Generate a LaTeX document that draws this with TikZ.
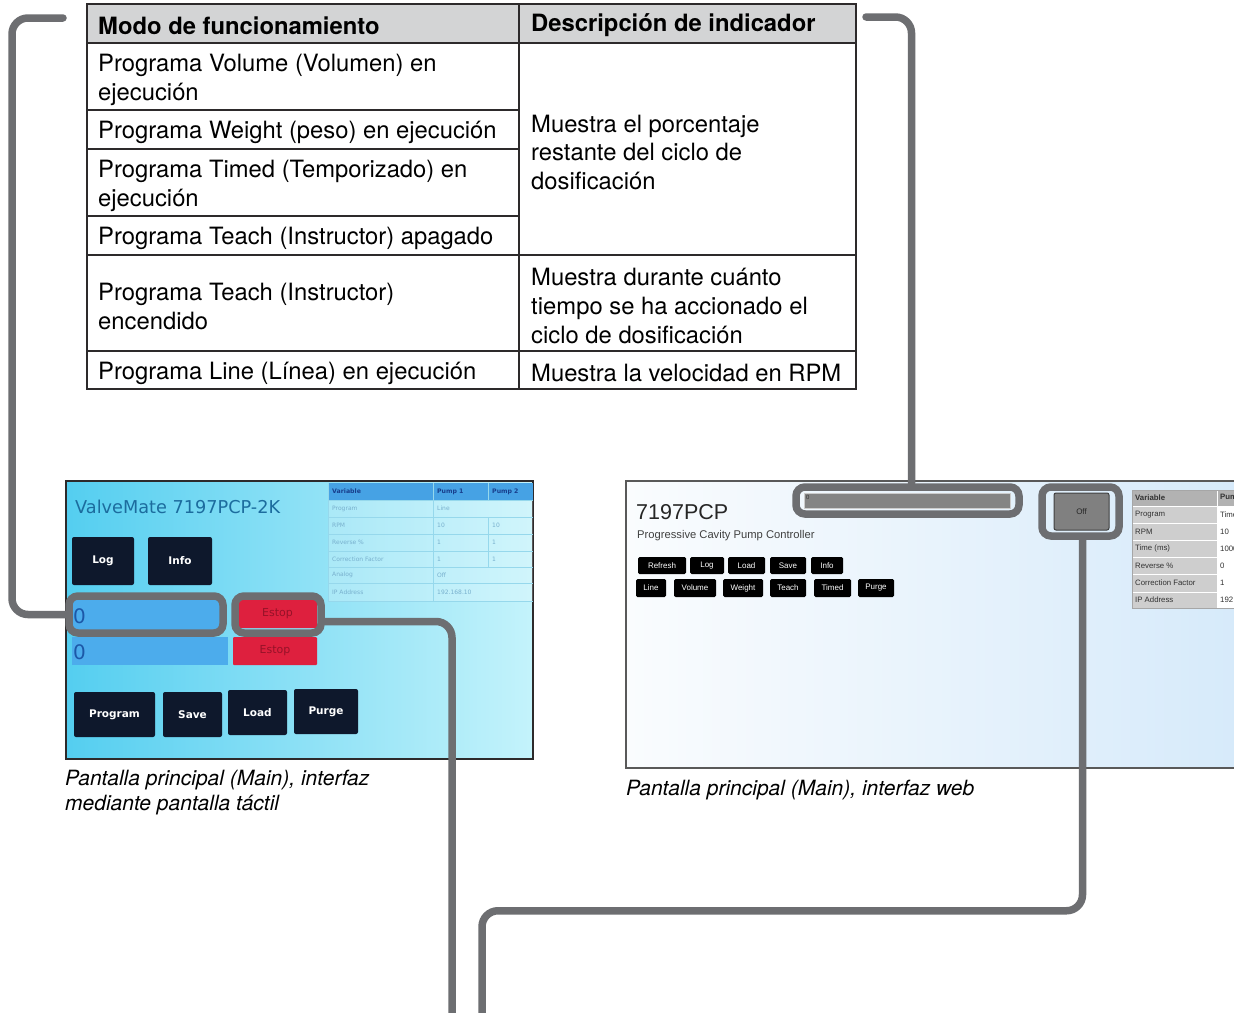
\documentclass[tikz,border=0pt]{standalone}
\usepackage{fontspec}
\setmainfont{TeX Gyre Heros}
\newfontfamily\touchfont{DejaVu Sans}
\newfontfamily\webfont{Liberation Sans}

\definecolor{calloutgray}{RGB}{109,110,113}
\definecolor{rulecol}{RGB}{45,42,43}
\definecolor{headfill}{RGB}{211,212,213}
\definecolor{navybtn}{RGB}{14,24,44}
\definecolor{fieldblue}{RGB}{76,172,236}
\definecolor{fieldtext}{RGB}{28,88,168}
\definecolor{estopred}{RGB}{222,32,62}
\definecolor{estoptext}{RGB}{150,18,40}
\definecolor{titleblue}{RGB}{28,108,158}
\definecolor{tsleft}{RGB}{84,206,240}
\definecolor{tsright}{RGB}{196,243,251}
\definecolor{tshead}{RGB}{70,162,228}
\definecolor{tsheadtext}{RGB}{24,62,140}
\definecolor{tsline}{RGB}{150,216,236}
\definecolor{tstext}{RGB}{120,176,206}
\definecolor{webleft}{RGB}{250,252,254}
\definecolor{webright}{RGB}{214,234,250}
\definecolor{webgray}{RGB}{132,132,132}
\definecolor{webhead}{RGB}{178,178,178}
\definecolor{webcell}{RGB}{206,206,206}
\definecolor{webtext}{RGB}{50,50,50}

\newcommand\tabtxt{\fontsize{23.8}{29}\selectfont}
\newcommand\captxt{\fontsize{21}{25}\selectfont\itshape}

\tikzset{
  callout/.style={draw=calloutgray, line width=7.5pt, rounded corners=16pt, line cap=round},
  hilite/.style={draw=calloutgray, line width=7.5pt, rounded corners=9pt, inner sep=0pt},
  tabrule/.style={draw=rulecol, line width=1.6pt},
  celltext/.style={anchor=west, inner sep=0pt, align=left, font=\tabtxt, text=black},
  headtext/.style={anchor=west, inner sep=0pt, font=\tabtxt\bfseries, text=black},
  captext/.style={anchor=west, inner sep=0pt, align=left, font=\captxt, text=black},
  navy/.style={fill=navybtn, rounded corners=2pt, inner sep=0pt, text=white,
    font={\touchfont\bfseries\fontsize{10.5}{12}\selectfont}},
  field/.style={fill=fieldblue, inner sep=0pt},
  fieldzero/.style={anchor=west, inner sep=0pt, text=fieldtext, font={\touchfont\fontsize{20}{22}\selectfont}},
  estop/.style={fill=estopred, rounded corners=1pt, inner sep=0pt, text=estoptext,
    font={\touchfont\fontsize{11}{12}\selectfont}},
  tscell/.style={anchor=west, inner sep=0pt, text=tstext, font={\touchfont\fontsize{6}{7}\selectfont}},
  tshcell/.style={anchor=west, inner sep=0pt, text=tsheadtext, font={\touchfont\bfseries\fontsize{6.2}{7}\selectfont}},
  webbtn/.style={fill=black, rounded corners=1.5pt, inner sep=0pt, text=white,
    font={\webfont\fontsize{8}{9}\selectfont}},
  webcelltext/.style={anchor=west, inner sep=0pt, text=webtext, font={\webfont\fontsize{7.8}{9}\selectfont}},
}

\begin{document}
\begin{tikzpicture}[x=1pt,y=-1pt]
\useasboundingbox (0,0) rectangle (1234,1012);
\fill[white] (0,0) rectangle (1234,1012);

% ---------------- Mode / indicator table ----------------
\fill[headfill] (87,4) rectangle (856,43);
\draw[tabrule] (87,43) -- (856,43);
\draw[tabrule] (87,110) -- (519,110);
\draw[tabrule] (87,149) -- (519,149);
\draw[tabrule] (87,216) -- (519,216);
\draw[tabrule] (87,255) -- (856,255);
\draw[tabrule] (87,351) -- (856,351);
\draw[tabrule] (519,4) -- (519,389);
\draw[tabrule, line width=1.9pt] (87,4) rectangle (856,389);

\node[headtext] (hMode) at (98,25.5) {Modo de funcionamiento};
\node[headtext] (hDesc) at (531,25.5) {Descripción de indicador};

\node[celltext] (mVolume) at (98,79.5) {Programa Volume (Volumen) en\\ejecución};
\node[celltext] (mWeight) at (98,132.5) {Programa Weight (peso) en ejecución};
\node[celltext] (mTimed) at (98,185.5) {Programa Timed (Temporizado) en\\ejecución};
\node[celltext] (mTeachOff) at (98,238.5) {Programa Teach (Instructor) apagado};
\node[celltext] (mTeachOn) at (98,306.5) {Programa Teach (Instructor)\\encendido};
\node[celltext] (mLine) at (98,373) {Programa Line (Línea) en ejecución};

\node[celltext] (dPercent) at (531,152.5) {Muestra el porcentaje\\restante del ciclo de\\dosificación};
\node[celltext] (dTime) at (531,306) {Muestra durante cuánto\\tiempo se ha accionado el\\ciclo de dosificación};
\node[celltext] (dSpeed) at (531,373) {Muestra la velocidad en RPM};

% ---------------- Touch screen main screen ----------------
\shade[left color=tsleft, right color=tsright] (66,481) rectangle (533,759);
\draw[rulecol, line width=1.3pt] (66,481) rectangle (533,759);

\node[anchor=west, inner sep=0pt, text=titleblue, font={\touchfont\fontsize{17.7}{20}\selectfont}]
  (tsTitle) at (75,507) {ValveMate 7197PCP-2K};

\node[navy, minimum width=62, minimum height=48] (tsLog) at (103,561) {Log};
\node[navy, minimum width=64, minimum height=48] (tsInfo) at (180,561) {Info};

\node[field, minimum width=150, minimum height=30] (tsField1) at (147,615) {};
\node[fieldzero] (tsZero1) at (73,616) {0};
\node[field, minimum width=156, minimum height=28] (tsField2) at (150,651) {};
\node[fieldzero] (tsZero2) at (73,652) {0};

\node[estop, minimum width=79, minimum height=28] (tsEstop1) at (277.5,614) {Estop};
\node[estop, minimum width=84, minimum height=28] (tsEstop2) at (275,651) {Estop};

\node[navy, minimum width=81, minimum height=45] (tsProgram) at (114.5,714.5) {Program};
\node[navy, minimum width=59, minimum height=45] (tsSave) at (192.5,714.5) {Save};
\node[navy, minimum width=59, minimum height=45] (tsLoad) at (257.5,712.5) {Load};
\node[navy, minimum width=64, minimum height=45] (tsPurge) at (326,711.5) {Purge};

% status table on the touch screen
\fill[tshead] (328,483) rectangle (533,500);
\fill[white, opacity=0.22] (328,500) rectangle (533,601);
\foreach \yy in {500,517,534,551,567,583,601}
  \draw[tsline, line width=0.8pt] (328,\yy) -- (533,\yy);
\draw[tsline, line width=0.8pt] (328,483) -- (328,601);
\draw[tsline, line width=0.8pt] (433,483) -- (433,601);
\draw[tsline, line width=0.8pt] (488,483) -- (488,500);
\draw[tsline, line width=0.8pt] (488,517) -- (488,567);

\node[tshcell] (tsHVar) at (332,491.5) {Variable};
\node[tshcell] (tsHP1) at (437,491.5) {Pump 1};
\node[tshcell] (tsHP2) at (492,491.5) {Pump 2};
\node[tscell] (tsR1a) at (332,508.5) {Program};
\node[tscell] (tsR1b) at (437,508.5) {Line};
\node[tscell] (tsR2a) at (332,525.5) {RPM};
\node[tscell] (tsR2b) at (437,525.5) {10};
\node[tscell] (tsR2c) at (492,525.5) {10};
\node[tscell] (tsR3a) at (332,542.5) {Reverse \%};
\node[tscell] (tsR3b) at (437,542.5) {1};
\node[tscell] (tsR3c) at (492,542.5) {1};
\node[tscell] (tsR4a) at (332,559) {Correction Factor};
\node[tscell] (tsR4b) at (437,559) {1};
\node[tscell] (tsR4c) at (492,559) {1};
\node[tscell] (tsR5a) at (332,575) {Analog};
\node[tscell] (tsR5b) at (437,575) {Off};
\node[tscell] (tsR6a) at (332,592) {IP Address};
\node[tscell] (tsR6b) at (437,592) {192.168.10};

\node[captext] (capTouch) at (65,792.5) {Pantalla principal (Main), interfaz\\mediante pantalla táctil};

% ---------------- Web interface main screen ----------------
\begin{scope}
\clip (0,0) rectangle (1234,1012);
\shade[left color=webleft, right color=webright] (626,481) rectangle (1240,768);
\draw[black!65, line width=1.1pt] (626,481) rectangle (1240,768);

\node[anchor=west, inner sep=0pt, text=black!85, font={\webfont\fontsize{21.5}{24}\selectfont}]
  (webTitle) at (636,512) {7197PCP};
\node[anchor=west, inner sep=0pt, text=black!75, font={\webfont\fontsize{11.2}{13}\selectfont}]
  (webSub) at (637,536) {Progressive Cavity Pump Controller};

\node[webbtn, minimum width=48, minimum height=17] (wRefresh) at (662,565.5) {Refresh};
\node[webbtn, minimum width=34, minimum height=17] (wLog) at (707,565.5) {Log};
\node[webbtn, minimum width=37, minimum height=17] (wLoad) at (746.5,565.5) {Load};
\node[webbtn, minimum width=36, minimum height=17] (wSave) at (788,565.5) {Save};
\node[webbtn, minimum width=32, minimum height=17] (wInfo) at (827,565.5) {Info};

\node[webbtn, minimum width=30, minimum height=18] (wLine) at (651,588) {Line};
\node[webbtn, minimum width=42, minimum height=18] (wVolume) at (695,588) {Volume};
\node[webbtn, minimum width=40, minimum height=18] (wWeight) at (743,588) {Weight};
\node[webbtn, minimum width=36, minimum height=18] (wTeach) at (788,588) {Teach};
\node[webbtn, minimum width=37, minimum height=18] (wTimed) at (832.5,588) {Timed};
\node[webbtn, minimum width=36, minimum height=18] (wPurge) at (876,588) {Purge};

\node[fill=webgray, draw=black!20, line width=0.8pt, inner sep=0pt,
  minimum width=206, minimum height=15] (wBar) at (907,500.5) {};
\node[anchor=west, inner sep=0pt, text=black!80, font={\webfont\fontsize{6}{7}\selectfont}]
  (wBarZero) at (806,497) {0};

\node[fill=black!50, draw=black!75, line width=1pt, rounded corners=2pt, inner sep=0pt,
  minimum width=55, minimum height=37, text=black!85, font={\webfont\fontsize{8}{9}\selectfont}]
  (wOff) at (1081.5,511.5) {Off};

% status table on the web page
\fill[webhead] (1132,490) rectangle (1250,506);
\fill[webcell] (1132,506) rectangle (1217,608);
\fill[white] (1217,506) rectangle (1250,608);
\foreach \yy in {506,523,540,557,574,592}
  \draw[white, line width=0.9pt] (1132,\yy) -- (1250,\yy);
\draw[white, line width=0.9pt] (1217,490) -- (1217,608);
\draw[black!35, line width=0.8pt] (1132,490) rectangle (1250,608);

\node[webcelltext, font={\webfont\bfseries\fontsize{7.8}{9}\selectfont}] (wHVar) at (1135,498) {Variable};
\node[webcelltext, font={\webfont\bfseries\fontsize{7.8}{9}\selectfont}] (wHP1) at (1220,498) {Pump 1};
\node[webcelltext] (wR1a) at (1135,514.5) {Program};
\node[webcelltext] (wR1b) at (1220,514.5) {Timed};
\node[webcelltext] (wR2a) at (1135,531.5) {RPM};
\node[webcelltext] (wR2b) at (1220,531.5) {10};
\node[webcelltext] (wR3a) at (1135,548.5) {Time (ms)};
\node[webcelltext] (wR3b) at (1220,548.5) {1000};
\node[webcelltext] (wR4a) at (1135,565.5) {Reverse \%};
\node[webcelltext] (wR4b) at (1220,565.5) {0};
\node[webcelltext] (wR5a) at (1135,583) {Correction Factor};
\node[webcelltext] (wR5b) at (1220,583) {1};
\node[webcelltext] (wR6a) at (1135,600) {IP Address};
\node[webcelltext] (wR6b) at (1220,600) {192};
\end{scope}

\node[captext] (capWeb) at (626,790) {Pantalla principal (Main), interfaz web};

% ---------------- Highlight frames ----------------
\node[hilite, minimum width=154, minimum height=37] (hlField) at (146,614.5) {};
\node[hilite, minimum width=86, minimum height=37] (hlEstop) at (278,614.5) {};
\node[hilite, minimum width=223, minimum height=27] (hlBar) at (907.5,500.5) {};
\node[hilite, minimum width=77, minimum height=49] (hlOff) at (1080.5,511.5) {};

% ---------------- Callout connectors ----------------
\coordinate (tabLeftEnd) at (63,18);
\coordinate (tabRightEnd) at (866,17);
\coordinate (estopDrop) at (452,1040);
\coordinate (offDrop) at (482,1040);

\draw[callout] (tabLeftEnd) -- ++(-51,0) |- (hlField.west);
\draw[callout] (tabRightEnd) -| ([xshift=4]hlBar.north);
\draw[callout] ([yshift=-7]hlEstop.east) -| (estopDrop);
\draw[callout] ([xshift=2]hlOff.south) -- ++(0,371) -| (offDrop);
\end{tikzpicture}
\end{document}
